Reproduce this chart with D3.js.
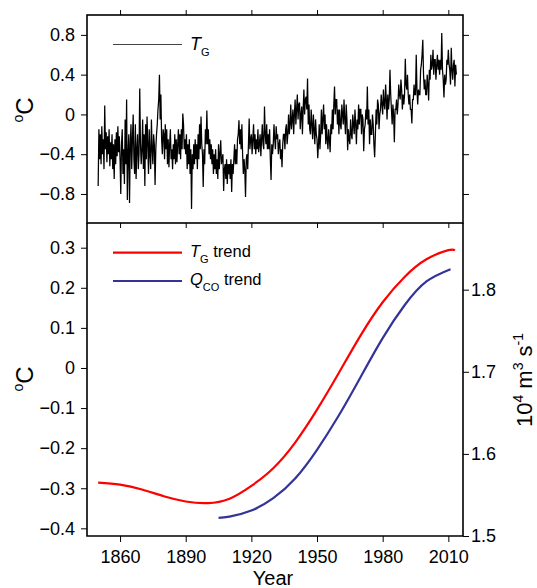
<!DOCTYPE html>
<html>
<head>
<meta charset="utf-8">
<script src="https://cdn.jsdelivr.net/npm/d3@7"></script>
<style>
  html, body { margin: 0; padding: 0; background: #fff; }
  svg { display: block; font-family: "Liberation Sans", Arial, Helvetica, sans-serif; }
  .axis path, .axis line { stroke: #000; }
  .axis text { fill: #000; font-size: 18px; }
</style>
</head>
<body>
<svg id="chart" width="537" height="588"></svg>
<script>
// Global temperature anomaly in hundredths of °C, three readings per year from 1850.0
const tgStart = 1850;
const tgPerYear = 3;
const tgCenti = [
  // 1850s
  -72, -15, -45,  -20, -50, -12,  -40, -25, -55,  9, -35, -18,  -48, -22, -40,
  -15, -52, -28,  -45, -20, -55,  -30, -65, -25,  -50, -18, -42,  -12, -38, -22,
  // 1860s
  -45, -80, -30,  -15, -60, -35,  -70, -5, -50,  15, -86, -40,  -20, -89, -30,
  -10, -55, -25,  0, -45, -60,  -10, -65, -35,  -20, -55, -40,  26, -30, -50,
  // 1870s
  -35, -5, -55,  -20, -72, -10,  -45, -2, -30,  -60, -15, -40,  -55, -5, -35,
  -50, -20, -30,  -71, -35, -20,  -10, 5, 15,  40, -5, 20,  -25, -40, -15,
  // 1880s
  -20, -45, -10,  -35, -15, -50,  -25, -53, -30,  -15, -45, -35,  -55, -30, -45,
  -20, -50, -25,  -48, -30, -15,  -40, -20, -45,  -15, -35, 1,  -10, -35, -25,
  // 1890s
  -40, -20, -55,  -30, -50, -25,  -60, -35, -95,  -40, -55, -30,  -50, -25, -45,
  -30, -55, -20,  -45, -10, -35,  -2, -30, -40,  -73, -35, -50,  -15, -30, 4,
  // 1900s
  -30, -15, -40,  -25, -45, -30,  -50, -35, -60,  -40, -55, -35,  -60, -45, -65,
  -30, -55, -40,  -26, -50, -45,  -40, -77, -55,  -50, -65, -45,  -70, -50, -60,
  // 1910s
  -50, -65, -45,  -78, -50, -60,  -45, -30, -50,  -35, -50, -25,  -20, -6, -30,
  -15, -35, -10,  -40, -60, -45,  -55, -83, -45,  -40, -55, -30,  -4, -35, -25,
  // 1920s
  -20, -40, -25,  -10, -35, -20,  -40, -25, -35,  -15, -38, -30,  -20, -42, -25,
  -10, -30, -35,  8, -20, -30,  -10, -35, -20,  -35, -15, -45,  -66, -30, -40,
  // 1930s
  -30, -10, -25,  -35, -12, -25,  -20, -40, -30,  -25, -45, -35,  -53, -30, -20,
  -20, -35, -15,  -10, -30, -20,  0, -20, -10,  10, -15, -5,  5, -20, 0,
  // 1940s
  15, -10, 5,  20, -5, 10,  12, -15, 0,  8, -20, 5,  25, 0, 15,
  18, 5, 36,  -10, 10, -15,  -20, 5, -10,  -25, 0, -15,  -30, -5, -20,
  // 1950s
  -25, -44, -30,  -10, -35, -20,  5, -20, -5,  10, -15, 0,  -30, -10, -25,
  -35, -15, -25,  -38, -10, -20,  5, -15, 10,  28, 0, 15,  15, -10, 5,
  // 1960s
  -20, 5, -10,  -15, 10, 0,  -10, 15, -5,  -20, 10, -5,  -36, -15, -25,
  -30, -5, -20,  -25, 0, -10,  -20, 5, -10,  -30, -5, -15,  10, -10, 5,
  // 1970s
  5, -20, 0,  -5, -37, -15,  -10, 5, -5,  28, -10, 5,  -30, -5, -20,
  -20, 0, -10,  -30, -43, -20,  5, -10, 15,  10, -15, 0,  5, 20, 10,
  // 1980s
  0, 25, 10,  5, 30, 15,  -5, 20, 5,  15, 45, 20,  5, -10, 10,
  0, -28, 5,  5, 15, 0,  10, 30, 20,  15, 35, 25,  5, 20, 10,
  // 1990s
  20, 56, 30,  25, 40, 20,  10, 20, 5,  5, -9, 15,  15, 30, 20,
  20, 60, 25,  10, 25, 20,  20, 45, 50,  60, 75, 40,  25, 35, 20,
  // 2000s
  20, 40, 30,  14, 45, 35,  60, 45, 50,  65, 40, 55,  55, 35, 50,
  60, 45, 55,  40, 55, 45,  82, 45, 35,  17, 40, 30,  35, 55, 50,
  // 2010-2013
  65, 50, 45,  30, 67, 45,  35, 50, 55,  28, 50, 40
];

// Smoothed temperature trend (°C, left axis)
const tgTrendYears  = [1850, 1860, 1870, 1880, 1890, 1900, 1910, 1920, 1930, 1940,
                       1950, 1960, 1970, 1980, 1990, 2000, 2010, 2013];
const tgTrendValues = [-0.286, -0.291, -0.303, -0.320, -0.333, -0.337, -0.326, -0.294, -0.250, -0.186,
                       -0.104, -0.012, 0.082, 0.164, 0.227, 0.271, 0.294, 0.293];

// Smoothed discharge trend (10^4 m^3 s^-1, right axis)
const qTrendYears  = [1905, 1910, 1920, 1930, 1940, 1950, 1960, 1970, 1980, 1990, 2000, 2011];
const qTrendValues = [1.522, 1.5235, 1.531, 1.546, 1.570, 1.605, 1.647, 1.694, 1.741, 1.781, 1.810, 1.825];

const xTicks = [1860, 1890, 1920, 1950, 1980, 2010];
const topTicks = [-0.8, -0.4, 0, 0.4, 0.8];
const leftTicks = [-0.4, -0.3, -0.2, -0.1, 0, 0.1, 0.2, 0.3];
const rightTicks = [1.5, 1.6, 1.7, 1.8];

const svg = d3.select("#chart");
const L = 87, R = 463, T1 = 15, B1 = 223, B2 = 536;

const x = d3.scaleLinear().domain([1844.9, 2016.7]).range([L, R]);
const yTop = d3.scaleLinear().domain([-1.092, 1.0]).range([B1, T1]);
const yLeft = d3.scaleLinear().domain([-0.4191, 0.3616]).range([B2, B1]);
const yRight = d3.scaleLinear().domain([1.5, 1.8812]).range([B2, B1]);

const fmt = d => (d === 0 ? "0" : d3.format("")(d));

// ---------- top panel ----------
const tgData = tgCenti.map((v, i) => [tgStart + i / tgPerYear, v / 100]);
svg.append("path")
  .datum(tgData)
  .attr("fill", "none")
  .attr("stroke", "#000")
  .attr("stroke-width", 1.25)
  .attr("d", d3.line().x(d => x(d[0])).y(d => yTop(d[1])));

svg.append("g").attr("class", "axis").attr("transform", `translate(${L},0)`)
  .call(d3.axisLeft(yTop).tickValues(topTicks).tickSize(6).tickPadding(6).tickFormat(fmt))
  .call(g => g.select(".domain").remove());
svg.append("g").attr("class", "axis").attr("transform", `translate(${R},0)`)
  .call(d3.axisRight(yTop).tickValues(topTicks).tickSize(6).tickFormat(""))
  .call(g => g.select(".domain").remove());
svg.append("g").attr("class", "axis").attr("transform", `translate(0,${T1})`)
  .call(d3.axisTop(x).tickValues(xTicks).tickSize(5).tickFormat(""))
  .call(g => g.select(".domain").remove());
svg.append("g").attr("class", "axis").attr("transform", `translate(0,${B1})`)
  .call(d3.axisBottom(x).tickValues(xTicks).tickSize(5).tickFormat(""))
  .call(g => g.select(".domain").remove());

svg.append("rect")
  .attr("x", L).attr("y", T1).attr("width", R - L).attr("height", B1 - T1)
  .attr("fill", "none").attr("stroke", "#000").attr("stroke-width", 1.6);

// top legend
svg.append("line").attr("x1", 113).attr("x2", 182).attr("y1", 44.5).attr("y2", 44.5)
  .attr("stroke", "#444").attr("stroke-width", 1.2);
const tl = svg.append("text").attr("x", 190).attr("y", 50).attr("font-size", 18);
tl.append("tspan").attr("font-style", "italic").text("T");
tl.append("tspan").attr("font-size", 11).attr("dy", 6).text("G");

// ---------- bottom panel ----------
const line = d3.line().curve(d3.curveNatural);
svg.append("path")
  .attr("fill", "none").attr("stroke", "#ff0000").attr("stroke-width", 2.2)
  .attr("d", line(tgTrendYears.map((yr, i) => [x(yr), yLeft(tgTrendValues[i])])));
svg.append("path")
  .attr("fill", "none").attr("stroke", "#33339a").attr("stroke-width", 2.2)
  .attr("d", line(qTrendYears.map((yr, i) => [x(yr), yRight(qTrendValues[i])])));

svg.append("g").attr("class", "axis").attr("transform", `translate(${L},0)`)
  .call(d3.axisLeft(yLeft).tickValues(leftTicks).tickSize(6).tickPadding(6).tickFormat(fmt))
  .call(g => g.select(".domain").remove());
svg.append("g").attr("class", "axis").attr("transform", `translate(${R},0)`)
  .call(d3.axisRight(yRight).tickValues(rightTicks).tickSize(6).tickPadding(2).tickFormat(d3.format(".1f")))
  .call(g => g.select(".domain").remove());
svg.append("g").attr("class", "axis").attr("transform", `translate(0,${B2})`)
  .call(d3.axisBottom(x).tickValues(xTicks).tickSize(6).tickPadding(8).tickFormat(d3.format("d")))
  .call(g => g.select(".domain").remove());

svg.append("path")
  .attr("d", `M${L},${B1}V${B2}H${R}V${B1}`)
  .attr("fill", "none").attr("stroke", "#000").attr("stroke-width", 1.6);

// bottom legend
svg.append("line").attr("x1", 113).attr("x2", 182).attr("y1", 252.7).attr("y2", 252.7)
  .attr("stroke", "#ff0000").attr("stroke-width", 2.2);
const l1 = svg.append("text").attr("x", 190).attr("y", 257).attr("font-size", 16.5);
l1.append("tspan").attr("font-style", "italic").text("T");
l1.append("tspan").attr("font-size", 11).attr("dy", 6).text("G");
l1.append("tspan").attr("dy", -6).text(" trend");

svg.append("line").attr("x1", 113).attr("x2", 182).attr("y1", 281).attr("y2", 281)
  .attr("stroke", "#33339a").attr("stroke-width", 2.2);
const l2 = svg.append("text").attr("x", 190).attr("y", 285).attr("font-size", 16.5);
l2.append("tspan").attr("font-style", "italic").text("Q");
l2.append("tspan").attr("font-size", 11).attr("dy", 6).text("CO");
l2.append("tspan").attr("dy", -6).text(" trend");

// ---------- axis titles ----------
function degreeLabel(cy) {
  const t = svg.append("text")
    .attr("transform", `translate(33,${cy}) rotate(-90)`)
    .attr("text-anchor", "middle").attr("font-size", 24);
  t.append("tspan").attr("font-size", 14).attr("dy", -10).text("o");
  t.append("tspan").attr("dy", 10).text("C");
}
degreeLabel(110);
degreeLabel(379);

svg.append("text").attr("x", 273).attr("y", 584.5)
  .attr("text-anchor", "middle").attr("font-size", 20).text("Year");

const rl = svg.append("text")
  .attr("transform", "translate(532,380) rotate(-90)")
  .attr("text-anchor", "middle").attr("font-size", 22);
rl.append("tspan").text("10");
rl.append("tspan").attr("font-size", 14).attr("dy", -9).text("4");
rl.append("tspan").attr("dy", 9).text(" m");
rl.append("tspan").attr("font-size", 14).attr("dy", -9).text("3");
rl.append("tspan").attr("dy", 9).text(" s");
rl.append("tspan").attr("font-size", 14).attr("dy", -9).text("-1");
</script>
</body>
</html>
